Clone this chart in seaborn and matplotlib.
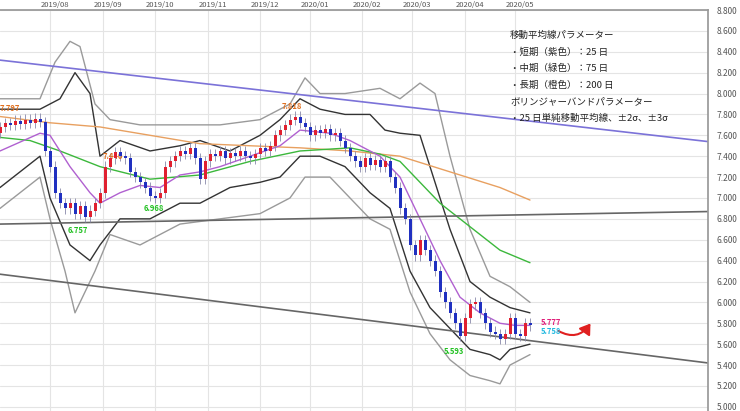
import matplotlib
matplotlib.use("Agg")
import matplotlib.pyplot as plt
import seaborn as sns
import numpy as np
from matplotlib.patches import FancyArrowPatch

sns.set_theme(style="white")
plt.rcParams['font.family'] = ['Noto Sans CJK JP', 'DejaVu Sans']

# candle positions (chart x units) and closes
cx = list(range(0, 535, 5))
closes = [7.68,7.72,7.70,7.74,7.71,7.75,7.72,7.76,7.73,7.45,7.30,7.05,6.95,6.90,6.95,6.85,6.92,6.82,6.88,6.95,
          7.05,7.30,7.38,7.44,7.40,7.38,7.25,7.20,7.15,7.10,7.02,7.00,7.05,7.30,7.35,7.40,7.45,7.42,7.48,7.38,
          7.18,7.35,7.42,7.40,7.45,7.38,7.43,7.40,7.45,7.40,7.38,7.42,7.48,7.45,7.50,7.60,7.65,7.70,7.75,7.78,
          7.72,7.68,7.60,7.65,7.62,7.66,7.60,7.62,7.55,7.48,7.40,7.35,7.30,7.38,7.32,7.36,7.30,7.35,7.20,7.10,
          6.90,6.80,6.55,6.45,6.60,6.50,6.40,6.30,6.10,6.00,5.90,5.80,5.68,5.85,5.98,6.00,5.90,5.80,5.72,5.70,
          5.65,5.70,5.85,5.70,5.68,5.80,5.78]
first_open = 7.62

ma25_x = [0,40,50,70,90,100,120,140,160,180,200,220,250,280,300,330,350,380,400,420,440,460,480,500,515,530]
ma25_y = [7.45,7.62,7.60,7.30,7.05,6.95,7.05,7.12,7.10,7.22,7.25,7.30,7.40,7.50,7.65,7.62,7.55,7.40,7.20,6.80,6.40,6.05,5.90,5.80,5.78,5.78]
ma75_x = [0,30,60,100,150,200,250,300,350,380,400,420,440,460,480,500,530]
ma75_y = [7.58,7.55,7.45,7.30,7.18,7.22,7.35,7.45,7.48,7.42,7.35,7.15,6.95,6.80,6.65,6.50,6.38]
ma200_x = [0,50,100,150,200,250,300,350,400,450,500,530]
ma200_y = [7.78,7.72,7.68,7.60,7.52,7.50,7.48,7.45,7.40,7.25,7.10,6.98]

up2_x = [0,40,60,75,90,100,120,150,180,200,230,260,280,300,320,345,370,385,400,420,430,450,470,490,510,530]
up2_y = [7.85,7.85,7.95,8.20,8.00,7.40,7.55,7.45,7.50,7.55,7.45,7.60,7.75,7.95,7.85,7.80,7.80,7.65,7.62,7.60,7.30,6.70,6.20,6.05,5.95,5.90]
lo2_x = [0,40,50,70,90,100,120,150,180,200,230,260,280,300,320,345,370,390,410,430,450,470,490,500,510,530]
lo2_y = [7.10,7.40,7.00,6.55,6.40,6.55,6.80,6.80,6.95,6.95,7.10,7.15,7.20,7.40,7.40,7.30,7.05,6.90,6.30,5.95,5.75,5.55,5.50,5.45,5.55,5.60]
up3_x = [0,40,55,70,80,95,110,140,180,220,260,290,305,320,345,380,400,420,435,450,470,490,510,530]
up3_y = [7.95,7.95,8.30,8.50,8.45,7.90,7.75,7.70,7.70,7.70,7.75,7.90,8.15,8.00,8.00,8.05,7.95,8.10,8.00,7.40,6.70,6.25,6.15,6.00]
lo3_x = [0,40,50,65,75,95,110,140,180,220,260,290,305,330,370,390,410,430,450,470,490,500,510,530]
lo3_y = [6.90,7.20,6.80,6.30,5.90,6.30,6.65,6.55,6.75,6.80,6.85,7.00,7.20,7.20,6.80,6.70,6.10,5.70,5.45,5.30,5.25,5.22,5.40,5.50]

trend_x = [0, 708]
trend_purple = [8.32, 7.54]
trend_mid = [6.75, 6.87]
trend_low = [6.27, 5.42]

month_x = [55,108,160,213,265,315,367,417,470,520]
month_labels = ["2019/08","2019/09","2019/10","2019/11","2019/12","2020/01","2020/02","2020/03","2020/04","2020/05"]
yticks = [5.0 + 0.2*i for i in range(20)]

fig = plt.figure(figsize=(7.4, 4.11), dpi=100)
ax = fig.add_axes([0, 0, 708/740, 1-10/411])
ax.set_xlim(0, 708)
ax.set_ylim(4.96, 8.79)

for xv in month_x:
    ax.axvline(xv-5, color="#e4e4e4", lw=0.8, zorder=0)
for yv in yticks:
    ax.axhline(yv, color="#e4e4e4", lw=0.8, zorder=0)

sns.lineplot(x=up3_x, y=up3_y, ax=ax, color="#9a9a9a", lw=1.0)
sns.lineplot(x=lo3_x, y=lo3_y, ax=ax, color="#9a9a9a", lw=1.0)
sns.lineplot(x=up2_x, y=up2_y, ax=ax, color="#333333", lw=1.0)
sns.lineplot(x=lo2_x, y=lo2_y, ax=ax, color="#333333", lw=1.0)
sns.lineplot(x=ma200_x, y=ma200_y, ax=ax, color="#e8a060", lw=1.0)
sns.lineplot(x=ma75_x, y=ma75_y, ax=ax, color="#3cb83c", lw=1.0)
sns.lineplot(x=ma25_x, y=ma25_y, ax=ax, color="#b060d0", lw=1.0)
sns.lineplot(x=trend_x, y=trend_purple, ax=ax, color="#7b72d8", lw=1.2)
sns.lineplot(x=trend_x, y=trend_mid, ax=ax, color="#666666", lw=1.2)
sns.lineplot(x=trend_x, y=trend_low, ax=ax, color="#666666", lw=1.2)

opens = [first_open] + closes[:-1]
for xv, o, c in zip(cx, opens, closes):
    col = "#e02030" if c >= o else "#2030c0"
    ax.vlines(xv, min(o, c) - 0.05, max(o, c) + 0.05, color="#8888aa", lw=0.6, zorder=3)
    ax.bar(xv, max(abs(c - o), 0.02), bottom=min(o, c), width=3.0, color=col,
           linewidth=0, zorder=4)

for t, x, y, c in [("7.797", 0, 7.86, "#e07020"), ("7.440", 103, 7.40, "#e07020"),
                   ("6.757", 68, 6.69, "#20c020"), ("6.968", 144, 6.90, "#20c020"),
                   ("7.818", 282, 7.88, "#e07020"), ("5.593", 444, 5.53, "#20c020"),
                   ("5.777", 541, 5.81, "#e0207a"), ("5.758", 541, 5.72, "#20b8e0")]:
    ax.text(x, y, t, color=c, fontsize=5.5, ha="left", va="center", fontweight="bold")

ax.add_patch(FancyArrowPatch((556, 5.74), (592, 5.82), connectionstyle="arc3,rad=0.5",
                             arrowstyle="-|>,head_length=6,head_width=4", color="#e02020", lw=1.5))

legend_lines = ["移動平均線パラメーター", "・短期（紫色）：25 日", "・中期（緑色）：75 日",
                "・長期（橙色）：200 日", "ボリンジャーバンドパラメーター", "・25 日単純移動平均線、±2σ、±3σ"]
for i, s in enumerate(legend_lines):
    ax.text(510, 8.56 - i*0.16, s, fontsize=6.8, color="#222222", va="center")

ax.yaxis.tick_right()
ax.set_yticks(yticks)
ax.set_yticklabels([f"{v:.3f}" for v in yticks], fontsize=6, color="#555555")
ax.tick_params(axis="y", length=0, pad=6)
ax.xaxis.tick_top()
ax.set_xticks(month_x)
ax.set_xticklabels(month_labels, fontsize=5.5, color="#555555")
ax.tick_params(axis="x", length=0, pad=0.5)
ax.set_xlabel(""); ax.set_ylabel("")
for s in ["left", "bottom"]:
    ax.spines[s].set_visible(False)
ax.spines["right"].set_color("#999999")
ax.spines["top"].set_color("#999999")
fig.savefig("out.png", dpi=100)
